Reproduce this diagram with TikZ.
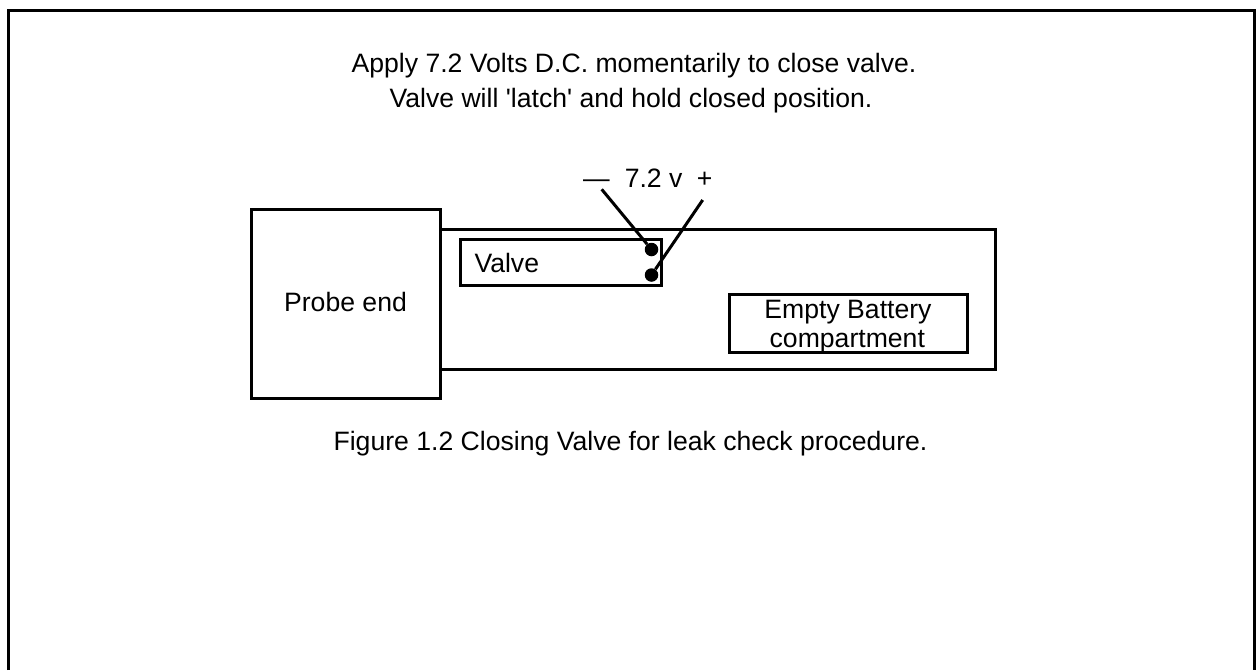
\documentclass[tikz,border=0pt]{standalone}
\usepackage{fontspec}
\newfontfamily\plainfont{Liberation Sans}
\begin{document}
\begin{tikzpicture}[x=1pt,y=-1pt,
  box/.style={draw=black,line width=3pt,fill=white,inner sep=0pt,outer sep=0pt,anchor=north west},
  lbl/.style={inner sep=0pt,anchor=base,font=\plainfont\fontsize{26.6}{30}\selectfont,text=black},
  wire/.style={draw=black,line width=3pt},
  dot/.style={circle,fill=black,inner sep=0pt,minimum size=13.5pt}]
\useasboundingbox (0,0) rectangle (1256,670);
\draw[line width=3pt] (8.5,670) -- (8.5,10.5) -- (1254,10.5) -- (1254,670);
\node[box,minimum width=189pt,minimum height=189pt] (probe) at (251.7,209.3) {};
\node[box,minimum width=554.6pt,minimum height=140pt] (body) at (440.7,229.3) {};
\node[box,minimum width=201.7pt,minimum height=45.7pt] (valve) at (460,239.3) {};
\node[box,minimum width=238.3pt,minimum height=57.3pt] (batt) at (729,294.7) {};
\node[lbl] (t1) at (634,72) {Apply 7.2 Volts D.C. momentarily to close valve.};
\node[lbl] (t2) at (631,107.7) {Valve will 'latch' and hold closed position.};
\node[lbl,anchor=base west] (vt) at (474.3,272.7) {Valve};
\node[lbl] (pt) at (345.5,311) {Probe end};
\node[lbl] (b1) at (848,318.3) {Empty Battery};
\node[lbl] (b2) at (847.3,347.7) {compartment};
\node[lbl] (cap) at (630.5,450.7) {Figure 1.2 Closing Valve for leak check procedure.};
\node[lbl,anchor=base west] (v72) at (583,187.3) {—\hspace{15pt}7.2 v\hspace{14.5pt}+};
\node[dot] (d1) at (651.5,249.5) {};
\node[dot] (d2) at (651.5,275) {};
\coordinate (w1) at (601.7,189.3);
\coordinate (w2) at (702.7,200);
\draw[wire] (w1) -- (d1);
\draw[wire] (w2) -- (d2);
\end{tikzpicture}
\end{document}
